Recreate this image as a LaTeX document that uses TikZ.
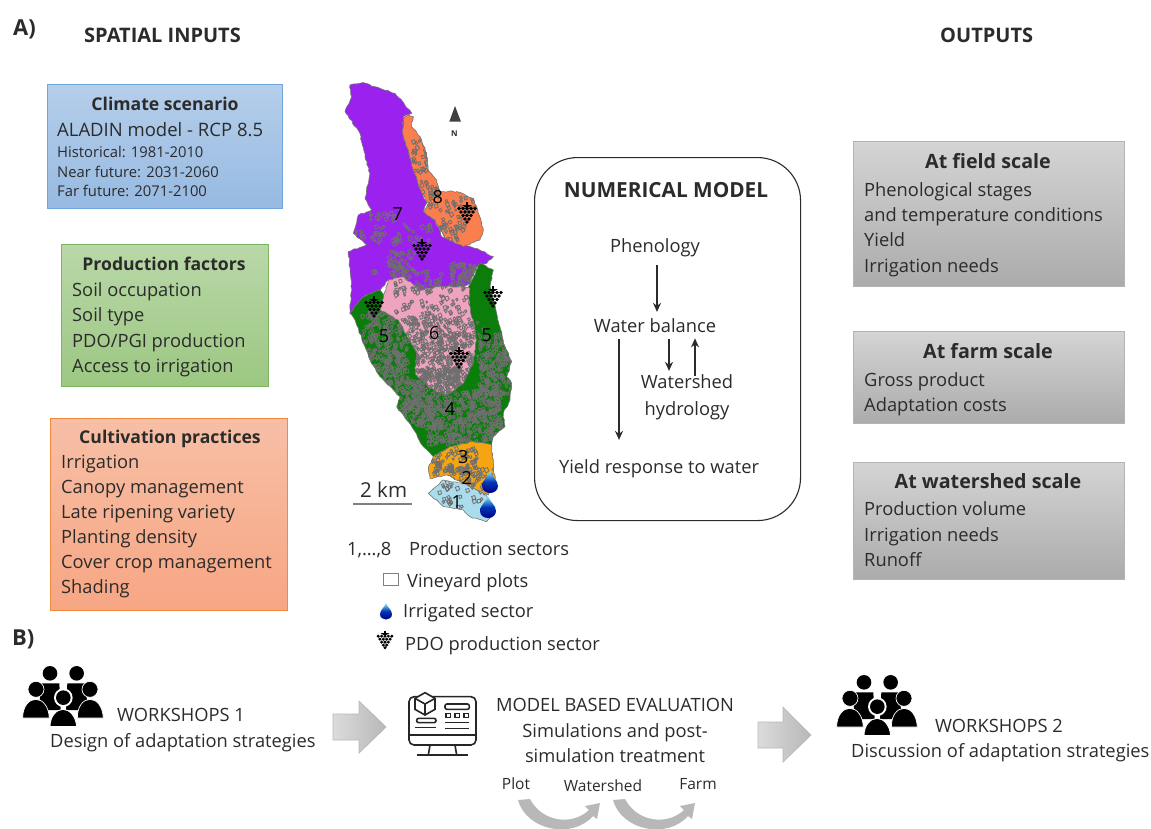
\documentclass[tikz,border=0pt]{standalone}
\usepackage{fontspec}
\setmainfont{Open Sans}
\usetikzlibrary{arrows.meta,calc,decorations.pathmorphing}
\definecolor{ink}{HTML}{2B2B2B}
\definecolor{plotgray}{HTML}{6F6F6F}
\definecolor{bluetop}{HTML}{B5CEEA}\definecolor{bluebot}{HTML}{97BAE2}\definecolor{blueedge}{HTML}{6FA8DC}
\definecolor{greentop}{HTML}{B9D8A8}\definecolor{greenbot}{HTML}{9CC782}\definecolor{greenedge}{HTML}{7DB560}
\definecolor{orangetop}{HTML}{F7BFA6}\definecolor{orangebot}{HTML}{F7A683}\definecolor{orangeedge}{HTML}{F08A3C}
\definecolor{graytop}{HTML}{D4D4D4}\definecolor{graybot}{HTML}{ABABAB}\definecolor{grayedge}{HTML}{B4B4B4}
\definecolor{mpurple}{HTML}{9B22EE}\definecolor{morange}{HTML}{FB7E4E}\definecolor{mgreen}{HTML}{0B7D0B}
\definecolor{mpink}{HTML}{EFA3BE}\definecolor{myellow}{HTML}{F5A511}\definecolor{mblue}{HTML}{ABDCEC}
\newcommand{\fsz}[1]{\fontsize{#1}{#1}\selectfont}
\tikzset{
  lab/.style={anchor=base west,inner sep=0pt,text=ink,font=\fsz{18.3}},
  labc/.style={lab,anchor=base},
  smalllab/.style={lab,font=\fsz{14.8}},
  headc/.style={labc,font=\fsz{17.6}\bfseries},
  bighead/.style={labc,font=\fsz{19.7}\bfseries},
  secnum/.style={inner sep=0pt,text=black,font=\fsz{18}},
  card/.style={line width=1.1pt,inner sep=0pt,anchor=north west},
  bluecard/.style={card,draw=blueedge,top color=bluetop,bottom color=bluebot},
  greencard/.style={card,draw=greenedge,top color=greentop,bottom color=greenbot},
  orangecard/.style={card,draw=orangeedge,top color=orangetop,bottom color=orangebot},
  graycard/.style={card,draw=grayedge,top color=graytop,bottom color=graybot},
  arr/.style={-{Stealth[length=9pt,width=8pt]},line width=1.2pt,draw=ink},
  bigarrow/.style={draw=black!28,line width=.7pt,left color=black!14,right color=black!28},
  bendarrow/.style={fill=black!28},
  region/.style={draw=black!55,line width=.6pt,decorate,decoration={random steps,segment length=3pt,amplitude=.7pt}},
  grape/.pic={
    \fill[black] (-5,-8) -- (5,-8) -- (0,-5) -- cycle;
    \fill[black] (-.7,-11) rectangle (.7,-7);
    \foreach \gx/\gy in {-8/-4.5,-4/-4.5,0/-4.5,4/-4.5,8/-4.5,-6/-1,-2/-1,2/-1,6/-1,-4/2.5,0/2.5,4/2.5,-2/6,2/6,0/9}
      \fill[black] (\gx,\gy) circle (1.95);
  },
  waterdrop/.pic={
    \shade[top color=blue!15!cyan!45!white,bottom color=blue!55!black,middle color=blue!70!cyan!70!black]
      (0,-12) .. controls (1,-7) and (8,-3) .. (8,3) .. controls (8,7.5) and (4,10) .. (0,10)
      .. controls (-4,10) and (-8,7.5) .. (-8,3) .. controls (-8,-3) and (-1,-7) .. (0,-12) -- cycle;
  },
  people/.pic={
    \begin{scope}[x=.3333pt,y=-.3333pt]
      \fill[black] (150,130) circle (7.3pt) (230,130) circle (7.3pt);
      \fill[black] (122,160) -- (178,160) -- (182,240) -- (118,240) -- cycle;
      \fill[black] (202,160) -- (258,160) -- (262,240) -- (198,240) -- cycle;
      \filldraw[black,draw=white,line width=.7pt] (108,178) circle (8pt) (270,178) circle (8pt);
      \filldraw[black,draw=white,line width=.7pt] (68,264) .. controls (68,228) and (88,208) .. (107,208) .. controls (128,208) and (146,228) .. (148,264) -- cycle;
      \filldraw[black,draw=white,line width=.7pt] (232,264) .. controls (232,228) and (250,208) .. (270,208) .. controls (290,208) and (308,228) .. (310,264) -- cycle;
      \fill[white] (190,203) circle (9.3pt);
      \fill[black] (190,203) circle (7.3pt);
      \filldraw[black,draw=white,line width=.9pt] (150,290) .. controls (150,258) and (170,238) .. (189,238) .. controls (208,238) and (228,258) .. (230,290) -- cycle;
    \end{scope}
  },
}
\def\purplepath{(60,45) -- (100,38) -- (150,55) -- (195,70) -- (222,100) -- (245,130) -- (220,140) -- (218,190) -- (245,280) -- (265,345) -- (290,400) -- (280,425) -- (315,450) -- (335,500) -- (400,525) -- (440,535) -- (490,560) -- (470,580) -- (440,590) -- (420,640) -- (400,650) -- (330,650) -- (270,660) -- (220,620) -- (175,630) -- (150,660) -- (100,680) -- (60,730) -- (65,640) -- (55,545) -- (110,525) -- (70,490) -- (85,435) -- (125,420) -- (105,385) -- (120,310) -- (105,260) -- (90,190) -- (45,125) -- (65,80) -- cycle}
\def\orangepath{(235,135) -- (250,140) -- (245,170) -- (270,200) -- (290,250) -- (295,300) -- (320,330) -- (330,365) -- (380,365) -- (430,385) -- (445,430) -- (460,480) -- (450,510) -- (400,530) -- (345,505) -- (315,450) -- (280,425) -- (295,400) -- (265,345) -- (245,280) -- (218,190) -- (220,145) -- cycle}
\def\greenpath{(60,730) -- (100,680) -- (150,660) -- (200,720) -- (300,800) -- (420,700) -- (415,650) -- (450,580) -- (490,600) -- (480,650) -- (500,730) -- (510,770) -- (520,820) -- (545,875) -- (530,920) -- (545,940) -- (540,990) -- (520,1030) -- (525,1070) -- (490,1100) -- (485,1125) -- (430,1115) -- (360,1130) -- (310,1160) -- (280,1130) -- (245,1070) -- (200,1010) -- (210,980) -- (150,920) -- (120,870) -- (75,750) -- cycle}
\def\pinkpath{(150,720) -- (175,630) -- (220,620) -- (270,660) -- (330,650) -- (400,650) -- (420,655) -- (415,700) -- (430,750) -- (440,810) -- (430,880) -- (400,940) -- (350,975) -- (300,955) -- (255,910) -- (260,850) -- (205,750) -- cycle}
\def\yellowpath{(310,1160) -- (360,1130) -- (430,1115) -- (485,1125) -- (490,1180) -- (495,1230) -- (475,1275) -- (440,1260) -- (400,1240) -- (350,1215) -- (300,1225) -- (295,1195) -- cycle}
\def\bluepath{(295,1270) -- (340,1230) -- (400,1240) -- (470,1275) -- (495,1330) -- (470,1355) -- (420,1340) -- (400,1320) -- (340,1310) -- cycle}
\newcommand{\plots}[5]{%
  \foreach \k in {1,...,#5}{%
    \pgfmathsetmacro\pxa{#1+#3*rand}\pgfmathsetmacro\pya{#2+#4*rand}%
    \pgfmathsetmacro\da{3+7*rnd}\pgfmathsetmacro\db{3+7*rnd}%
    \draw[plotgray,line width=.8pt] (\pxa,\pya) -- ++(\da,-\db*.4) -- ++(\db*.5,\da) -- ++(-\da*.9,\db*.7) -- cycle;
  }%
}
\begin{document}
\begin{tikzpicture}[x=1pt,y=-1pt]
\useasboundingbox (0,0) rectangle (1151,828);

% Headings
\node[lab,font=\fsz{22}\bfseries] (partA) at (13,35) {A)};
\node[lab,font=\fsz{20}\bfseries] (spatial) at (84,42) {SPATIAL INPUTS};
\node[lab,font=\fsz{20}\bfseries] (outputs) at (940,42) {OUTPUTS};
\node[lab,font=\fsz{22}\bfseries] (partB) at (12,645) {B)};

% Climate card
\node[bluecard,minimum width=235pt,minimum height=124pt] (climate) at (47,84) {};
\node[headc] (climatet) at (165,110) {Climate scenario};
\node[lab,font=\fsz{18.5}] (aladin) at (57,136) {ALADIN model - RCP 8.5};
\node[smalllab] (hist) at (57,157) {Historical: 1981-2010};
\node[smalllab] (near) at (57,177) {Near future: 2031-2060};
\node[smalllab] (far) at (57,196) {Far future: 2071-2100};

% Production factors card
\node[greencard,minimum width=207pt,minimum height=142pt] (prod) at (61,244) {};
\node[headc] (prodt) at (164,270) {Production factors};
\node[lab] (p1) at (72,296) {Soil occupation};
\node[lab] (p2) at (72,321) {Soil type};
\node[lab] (p3) at (72,347) {PDO/PGI production};
\node[lab] (p4) at (72,372) {Access to irrigation};

% Cultivation card
\node[orangecard,minimum width=237pt,minimum height=192pt] (cult) at (50,418) {};
\node[headc] (cultt) at (170,443) {Cultivation practices};
\node[lab] (c1) at (61,468) {Irrigation};
\node[lab] (c2) at (61,493) {Canopy management};
\node[lab] (c3) at (61,518) {Late ripening variety};
\node[lab] (c4) at (61,543) {Planting density};
\node[lab] (c5) at (61,568) {Cover crop management};
\node[lab] (c6) at (61,593) {Shading};

% Map
\begin{scope}[shift={(330pt,-70pt)},x=.3333pt,y=-.3333pt]
  \pgfmathsetseed{4242}
  \path[region,fill=mpurple] \purplepath;
  \begin{scope}\clip \purplepath;
    \plots{150}{435}{40}{12}{16}
    \plots{210}{490}{90}{30}{45}
    \plots{210}{580}{40}{40}{60}
    \plots{400}{610}{50}{35}{90}
    \plots{290}{630}{40}{30}{35}
    \plots{85}{490}{15}{15}{8}
    \plots{130}{605}{8}{5}{3}
  \end{scope}
  \path[region,fill=morange] \orangepath;
  \begin{scope}\clip \orangepath;
    \plots{265}{250}{22}{70}{30}
    \plots{300}{370}{30}{40}{30}
    \plots{365}{450}{40}{60}{50}
    \plots{400}{400}{30}{20}{14}
  \end{scope}
  \path[region,fill=mgreen] \greenpath;
  \begin{scope}\clip \greenpath;
    \plots{160}{830}{70}{110}{300}
    \plots{250}{1000}{60}{70}{190}
    \plots{400}{1040}{110}{80}{400}
    \plots{490}{880}{50}{90}{190}
    \plots{440}{790}{30}{60}{10}
  \end{scope}
  \path[region,fill=mpink] \pinkpath;
  \begin{scope}\clip \pinkpath;
    \plots{300}{680}{110}{50}{90}
    \plots{270}{830}{60}{100}{230}
    \plots{375}{850}{55}{110}{260}
    \plots{330}{930}{60}{40}{120}
  \end{scope}
  \path[region,fill=myellow] \yellowpath;
  \begin{scope}\clip \yellowpath;
    \plots{370}{1170}{70}{40}{95}
    \plots{400}{1220}{90}{30}{60}
  \end{scope}
  \path[region,fill=mblue] \bluepath;
  \begin{scope}\clip \bluepath;
    \plots{390}{1270}{70}{40}{40}
  \end{scope}
  \foreach \dnum/\dx/\dy in {7/203/432,8/323/382,6/313/790,5/162/800,5/470/795,4/360/1018,3/400/1160,2/410/1225,1/380/1295}
    \node[secnum] at (\dx,\dy) {\dnum};
  \fill[black!75] (375,108) -- (393,155) -- (358,155) -- cycle;
  \node[inner sep=0pt,text=ink,font=\fsz{8}\bfseries] (north) at (373,192) {N};
\end{scope}
\pic at (467,213) {grape};
\pic at (422,250) {grape};
\pic at (374,307) {grape};
\pic at (493,297) {grape};
\pic at (459,358) {grape};
\pic at (490,483) {waterdrop};
\pic at (488,508) {waterdrop};

\node[lab,font=\fsz{20.5}] (km) at (360,497) {2 km};
\coordinate (sbl) at (353,504);
\coordinate (sbr) at (412,504);
\draw[black!50,line width=1.2pt] (sbl) -- (sbr);

% Legend
\node[lab] (l1a) at (347,555) {1,…,8};
\node[lab] (l1b) at (409,555) {Production sectors};
\node[draw=black!50,fill=white,line width=.8pt,inner sep=0pt,minimum width=15pt,minimum height=12pt] (l2a) at (390.5,579) {};
\node[lab] (l2b) at (407,587) {Vineyard plots};
\pic[scale=.75] at (386,612) {waterdrop};
\node[lab] (l3b) at (403,617) {Irrigated sector};
\pic[scale=.85] at (385,640) {grape};
\node[lab] (l4b) at (405,650) {PDO production sector};

% Numerical model
\node[draw=ink,line width=1.1pt,rounded corners=43pt,minimum width=266pt,minimum height=363pt,inner sep=0pt,anchor=north west] (model) at (534,157) {};
\node[labc,font=\fsz{20.8}\bfseries] (modelt) at (666,197) {NUMERICAL MODEL};
\node[labc] (phen) at (655,252) {Phenology};
\node[labc] (wb) at (655,332) {Water balance};
\node[labc] (ws1) at (687,388) {Watershed};
\node[labc] (ws2) at (687,415) {hydrology};
\node[labc] (yield) at (659,473) {Yield response to water};
\draw[arr,shorten <=8pt,shorten >=6pt] ([xshift=2pt]phen.south) -- ([xshift=2pt]wb.north);
\draw[arr,shorten <=7pt] ([xshift=-36pt]wb.south) -- ([xshift=-36pt,yshift=19pt]wb.south |- yield.north);
\draw[arr,shorten <=7pt,shorten >=3pt] ([xshift=14pt]wb.south) -- ([xshift=14pt]wb.south |- ws1.north);
\draw[arr,shorten <=1pt,shorten >=6pt] ([xshift=8pt,yshift=-3pt]ws1.north) -- ([xshift=40pt]wb.south);

% Outputs
\node[graycard,minimum width=271pt,minimum height=145pt] (field) at (853,141) {};
\node[bighead] (fieldt) at (988,168) {At field scale};
\node[lab] (f1) at (864,196) {Phenological stages};
\node[lab] (f2) at (864,221) {and temperature conditions};
\node[lab] (f3) at (864,246) {Yield};
\node[lab] (f4) at (864,272) {Irrigation needs};
\node[graycard,minimum width=271pt,minimum height=92pt] (farm) at (853,331) {};
\node[bighead] (farmt) at (988,358) {At farm scale};
\node[lab] (a1) at (864,386) {Gross product};
\node[lab] (a2) at (864,411) {Adaptation costs};
\node[graycard,minimum width=271pt,minimum height=117pt] (wshed) at (853,462) {};
\node[bighead] (wshedt) at (988,488) {At watershed scale};
\node[lab] (w1) at (864,515) {Production volume};
\node[lab] (w2) at (864,541) {Irrigation needs};
\node[lab] (w3) at (864,566) {Runoff};

% Part B
\pic at (0,630) {people};
\pic at (814,639) {people};
\node[lab] (wk1) at (117,721) {WORKSHOPS 1};
\node[lab] (wk1b) at (50,747) {Design of adaptation strategies};
\node[lab] (wk2) at (935,732) {WORKSHOPS 2};
\node[lab] (wk2b) at (851,757) {Discussion of adaptation strategies};
\node[labc] (mbe) at (615,711) {MODEL BASED EVALUATION};
\node[labc] (sim1) at (615,737) {Simulations and post-};
\node[labc] (sim2) at (615,762) {simulation treatment};
\node[labc,font=\fsz{15.5}] (plot) at (516,789) {Plot};
\node[labc,font=\fsz{15.5}] (watersh) at (603,791) {Watershed};
\node[labc,font=\fsz{15.5}] (farmb) at (698,789) {Farm};

\draw[bigarrow] (333,714) -- (359,714) -- (359,701) -- (386,727) -- (359,753) -- (359,740) -- (333,740) -- cycle;
\draw[bigarrow] (758,722) -- (783,722) -- (783,707) -- (811,735) -- (783,762) -- (783,748) -- (758,748) -- cycle;

% Computer icon
\begin{scope}[shift={(400pt,-680pt)},x=.3333pt,y=-.3333pt,line width=1.6pt,draw=black!85]
  \draw[rounded corners=5pt] (27,50) rectangle (228,195);
  \draw (27,165) -- (228,165);
  \draw (90,195) -- (85,225) (165,195) -- (170,225);
  \draw[line width=2pt] (50,225) -- (205,225);
  \filldraw[fill=white] (75,38) -- (105,55) -- (105,88) -- (75,105) -- (45,88) -- (45,55) -- cycle;
  \draw (45,55) -- (75,72) -- (105,55) (75,72) -- (75,105);
  \draw[rounded corners=2pt] (135,72) rectangle (208,88);
  \draw (138,100) rectangle (152,112) (165,100) rectangle (179,112) (192,100) rectangle (206,112);
  \draw[rounded corners=2pt] (50,115) rectangle (108,128);
  \draw (135,128) -- (208,128) (135,145) -- (208,145) (45,143) -- (108,143);
\end{scope}

% Bent arrows, cut by the page edge
\begin{scope}
  \clip (0,0) rectangle (1151,828);
  \foreach \bx in {0,95}{
    \fill[bendarrow,xshift=\bx pt] (518,800) .. controls (526,830) and (572,840) .. (593,816)
      -- (597,819) -- (600,803) -- (585,806) -- (589,810)
      .. controls (572,826) and (542,822) .. (530,799) -- cycle;
  }
\end{scope}
\end{tikzpicture}
\end{document}
